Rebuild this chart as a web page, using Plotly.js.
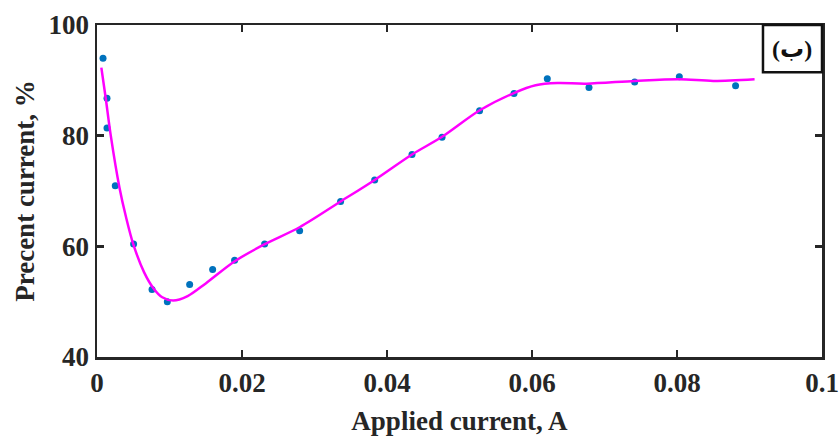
<!DOCTYPE html>
<html>
<head>
<meta charset="utf-8">
<script src="https://cdn.plot.ly/plotly-3.0.1.min.js"></script>
<style>html,body{margin:0;padding:0;background:#fff;}#chart{width:839px;height:440px;}</style>
</head>
<body>
<div id="chart"></div>
<script>
// Measured data points
const pointX = [0.00083, 0.00138, 0.00138, 0.00252, 0.00505, 0.00759, 0.0097, 0.01278, 0.01595, 0.01898, 0.02312, 0.02795, 0.0336, 0.0383, 0.04345, 0.04759, 0.05277, 0.05752, 0.06211, 0.06786, 0.07416, 0.08032, 0.08808];
const pointY = [94.0, 86.75, 81.4, 70.96, 60.4, 52.2, 50.0, 53.1, 55.8, 57.5, 60.4, 62.8, 68.1, 72.0, 76.6, 79.7, 84.5, 87.6, 90.3, 88.7, 89.7, 90.66, 89.0];
// Fitted curve
const curveX = [0.0006, 0.0012, 0.0019, 0.0031, 0.004, 0.005, 0.0065, 0.0078, 0.009, 0.0105, 0.0125, 0.015, 0.019, 0.023, 0.028, 0.0336, 0.0383, 0.04345, 0.0476, 0.0528, 0.0575, 0.0605, 0.0635, 0.0675, 0.0742, 0.0803, 0.085, 0.0907];
const curveY = [92.3, 86.8, 80.0, 70.6, 65.3, 60.4, 55.3, 52.4, 50.8, 50.2, 51.0, 53.3, 57.3, 60.3, 63.5, 68.1, 72.0, 76.6, 79.8, 84.6, 87.7, 89.1, 89.5, 89.4, 89.9, 90.2, 89.9, 90.2];
const xTickVals = [0, 0.02, 0.04, 0.06, 0.08, 0.1];
const xTickText = ['0', '0.02', '0.04', '0.06', '0.08', '0.1'];
const yTickVals = [40, 60, 80, 100];
const yTickText = ['40', '60', '80', '100'];
const labelText = '(ب)';

const serif = 'Liberation Serif, Times New Roman, serif';
const axisCommon = {
  showgrid: false, zeroline: false, showline: true, mirror: 'ticks',
  linecolor: '#262626', linewidth: 2.5,
  ticks: 'inside', ticklen: 7, tickwidth: 2.5, tickcolor: '#262626',
  tickfont: {family: serif, size: 27, color: '#262626', weight: 700}
};

const data = [
  {x: pointX, y: pointY, type: 'scatter', mode: 'markers',
   marker: {color: '#0072BD', size: 7}, hoverinfo: 'none'},
  {x: curveX, y: curveY, type: 'scatter', mode: 'lines',
   line: {color: '#FF00FF', width: 2.5, shape: 'spline', smoothing: 0.9}, hoverinfo: 'none'}
];

const layout = {
  width: 839, height: 440,
  margin: {l: 97, r: 17, t: 25, b: 83},
  paper_bgcolor: '#fff', plot_bgcolor: '#fff',
  showlegend: false,
  xaxis: Object.assign({}, axisCommon, {
    range: [0, 0.1], tickvals: xTickVals, ticktext: xTickText,
    title: {text: 'Applied current, A', font: {family: serif, size: 27, color: '#262626', weight: 700}, standoff: 14}
  }),
  yaxis: Object.assign({}, axisCommon, {
    range: [40, 100], tickvals: yTickVals, ticktext: yTickText,
    title: {text: 'Precent current, %', font: {family: serif, size: 27, color: '#262626', weight: 700}, standoff: 6}
  }),
  shapes: [{type: 'rect', xref: 'paper', yref: 'paper', x0: 0.9186, x1: 1, y0: 0.858, y1: 1,
            line: {color: '#111', width: 2.5}, fillcolor: 'rgba(0,0,0,0)'}],
  annotations: [{xref: 'paper', yref: 'paper', x: 0.9593, y: 0.929, text: labelText, showarrow: false,
                 xanchor: 'center', yanchor: 'middle',
                 font: {family: 'Liberation Serif, DejaVu Sans, serif', size: 24, color: '#111', weight: 700}}]
};

Plotly.newPlot('chart', data, layout, {displayModeBar: false, staticPlot: true});
</script>
</body>
</html>
